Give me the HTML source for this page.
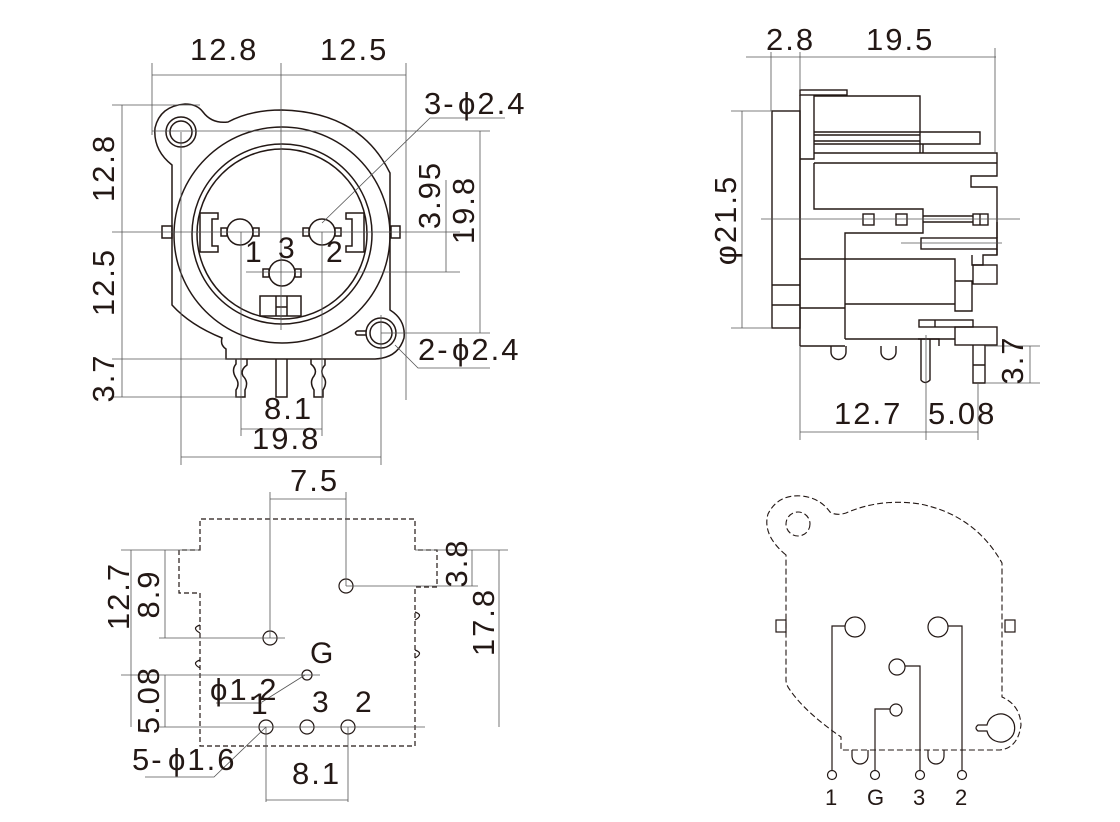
<!DOCTYPE html>
<html><head><meta charset="utf-8"><style>
html,body{margin:0;padding:0;background:#fff;}
svg{display:block;}
text{font-family:"Liberation Sans",Arial,sans-serif;fill:#231815;}
.d{font-size:31px;letter-spacing:2px;}
.s{font-size:30px;}
</style></head><body>
<svg width="1120" height="822" viewBox="0 0 1120 822" xmlns="http://www.w3.org/2000/svg">
<g fill="none" stroke="#231815" stroke-width="1.5">
<path d="M172,305 L172,165 Q153,150 155,128 Q160,106 185,104 Q197,104 203,112 Q212,124 228,122 Q250,110 282,110 Q360,112 390,173 L390,310 Q406,320 404,338 Q398,358 375,359 L226,359 L226,349 Q220,345 222,338 Q190,325 172,305 Z"/>
<circle cx="181" cy="132" r="15"/><circle cx="181" cy="132" r="11"/>
<circle cx="381" cy="333" r="15"/><circle cx="381" cy="333" r="11"/>
<path d="M366,331 L357,331 Q354,333 357,335 L366,335"/>
<circle cx="282" cy="235" r="108"/>
<circle cx="282" cy="234" r="90"/>
<circle cx="282" cy="234" r="85"/>
<rect x="162" y="226" width="10" height="12"/><rect x="391" y="226" width="9" height="12"/>
<path d="M218,213 L200,213 L200,252 L218,252 L218,246 L212,246 L212,219 L218,219 Z"/>
<path d="M346,213 L364,213 L364,252 L346,252 L346,246 L352,246 L352,219 L346,219 Z"/>
<circle cx="240" cy="232" r="13"/><rect x="221" y="228" width="6" height="8"/><rect x="253" y="228" width="6" height="8"/>
<circle cx="322" cy="232" r="13"/><rect x="303" y="228" width="6" height="8"/><rect x="335" y="228" width="6" height="8"/>
<circle cx="282" cy="273" r="13"/><rect x="263" y="269" width="6" height="8"/><rect x="295" y="269" width="6" height="8"/>
<rect x="260" y="296" width="41" height="20"/><path d="M276,296 V316 M287,296 V316 M276,307 H287"/>
<path d="M236,359 V364 Q231,370 236,378 Q240,384 236,390 V397 H245 V390 Q249,382 243,376 Q240,370 247,365 V359"/>
<path d="M276,359 V397 H287 V359"/>
<path d="M311,359 V364 Q318,370 314,376 Q309,382 314,390 V397 H323 V390 Q328,382 323,376 Q320,370 325,365 V359"/>
</g>
<g fill="none" stroke="#555" stroke-width="0.8">
<path d="M152,63 V135 M281,63 V330 M406,63 V400 M152,75 H406"/>
<path d="M112,105 H200 M122,105 V397 M112,232 H460 M112,359 H240 M112,397 H240"/>
<path d="M152,131 H490 M480,131 V333 M381,333 H490 M446,180 V272 M246,272 H460"/>
<path d="M181,132 V465 M381,315 V465 M181,457 H381 M241,232 V436 M322,232 V436 M241,429 H322"/>
<path d="M322,223 L430,118 L505,118"/>
<path d="M395,345 L418,368 L490,368"/>
</g>
<text class="d" x="190" y="60">12.8</text>
<text class="d" x="320" y="60">12.5</text>
<text class="d" x="424" y="114">3-</text><text class="d" x="458" y="114">ϕ2.4</text>
<text class="d" x="418" y="360">2-</text><text class="d" x="452" y="360">ϕ2.4</text>
<text class="d" x="264" y="419">8.1</text>
<text class="d" x="252" y="449">19.8</text>
<text class="s" x="245" y="262">1</text><text class="s" x="278" y="258">3</text><text class="s" x="326" y="262">2</text>
<text class="d" transform="translate(114,168) rotate(-90)" text-anchor="middle">12.8</text>
<text class="d" transform="translate(114,282) rotate(-90)" text-anchor="middle">12.5</text>
<text class="d" transform="translate(114,378) rotate(-90)" text-anchor="middle">3.7</text>
<text class="d" transform="translate(440,195) rotate(-90)" text-anchor="middle">3.95</text>
<text class="d" transform="translate(474,210) rotate(-90)" text-anchor="middle">19.8</text>

<g fill="none" stroke="#231815" stroke-width="1.4">
<rect x="772" y="111" width="28" height="217"/><path d="M772,285 H800 M772,305 H800"/>
<rect x="800" y="90" width="47" height="5"/>
<path d="M800,95 V346 M800,159 H814 V96 H920 V153"/>
<path d="M814,132 H920 M814,135 H920 M814,141 H920 M814,144 H923 V153 M920,132 H980 V144 H920"/>
<path d="M814,153 H997 V176 H971 V187 H997 V255"/>
<path d="M814,163 H997 M814,163 V209 H923 V233 H845 V339"/>
<rect x="863" y="214" width="11" height="11"/><rect x="896" y="214" width="11" height="11"/>
<path d="M923,216 H973 M923,222 H973"/><rect x="973" y="214" width="15" height="11"/><path d="M980,214 V225"/>
<rect x="921" y="238" width="76" height="11"/>
<path d="M997,222 V238 M997,249 V255 H983 V265 H972 V255"/>
<rect x="973" y="265" width="24" height="19"/>
<path d="M800,259 H955 V311 H972 V281 H955 M800,308 H845 M845,304 H955"/>
<rect x="919" y="320" width="54" height="7"/><path d="M935,320 V327"/>
<rect x="955" y="327" width="42" height="18"/>
<path d="M800,346 H845 M845,339 H955"/>
<path d="M831,346 V352 A7.5,7.5 0 0 0 846,352 V346 M881,346 V352 A7.5,7.5 0 0 0 896,352 V346"/>
<path d="M921,339 V380 Q925,385 930,380 V339 M918,339 H939 V346"/>
<path d="M973,345 V383 H985 V345 M973,365 H985"/>
</g>
<g fill="none" stroke="#555" stroke-width="0.8">
<path d="M746,57 H996 M771,52 V111 M800,52 V90 M995,48 V153"/>
<path d="M731,111 H772 M731,328 H772 M742,111 V328"/>
<path d="M761,219 H1020 M901,243 H1002"/>
<path d="M985,346 H1040 M985,383 H1040 M1030,346 V383"/>
<path d="M800,346 V440 M926,335 V440 M978,383 V440 M800,432 H978"/>
</g>
<text class="d" x="766" y="50">2.8</text>
<text class="d" x="866" y="50">19.5</text>
<text class="d" x="834" y="424">12.7</text>
<text class="d" x="928" y="424">5.08</text>
<text class="d" transform="translate(736,220) rotate(-90)" text-anchor="middle">φ21.5</text>
<text class="d" transform="translate(1023,360) rotate(-90)" text-anchor="middle">3.7</text>

<g fill="none" stroke="#231815" stroke-width="1.2" stroke-dasharray="5,3">
<path d="M200,550 V519 H415 V550 H437 V587 H415 V746 H200 V593 H179 V550 Z"/>
</g>
<g fill="none" stroke="#231815" stroke-width="1.2">
<path d="M415,612 Q424,615 415,620 M415,650 Q424,653 415,658 M200,625 Q191,628 200,633 M200,660 Q191,663 200,668"/>
<circle cx="266" cy="727" r="7"/><circle cx="307" cy="727" r="7"/><circle cx="348" cy="727" r="7"/>
<circle cx="307" cy="675" r="5"/><circle cx="270" cy="638" r="7"/><circle cx="346" cy="586" r="7"/>
</g>
<g fill="none" stroke="#555" stroke-width="0.8">
<path d="M270,492 V638 M346,492 V586 M270,499 H346"/>
<path d="M121,550 H200 M131,550 V727 M159,638 H285 M165,550 V638 M121,675 H320 M165,675 V727 M158,727 H425"/>
<path d="M415,550 H508 M346,586 H478 M472,550 V586 M499,550 V727"/>
<path d="M305,675 L262,702 M216,703 H262 M266,727 L214,777 L145,777"/>
<path d="M266,727 V802 M348,727 V802 M266,800 H348"/>
</g>
<text class="d" x="290" y="491">7.5</text>
<text class="d" x="292" y="784">8.1</text>
<text class="s" x="310" y="663">G</text>
<text class="d" x="210" y="700">ϕ1.2</text>
<text class="s" x="251" y="714">1</text><text class="s" x="312" y="712">3</text><text class="s" x="355" y="712">2</text>
<text class="d" x="132" y="770">5-</text><text class="d" x="168" y="770">ϕ1.6</text>
<text class="d" transform="translate(129,596) rotate(-90)" text-anchor="middle">12.7</text>
<text class="d" transform="translate(159,594) rotate(-90)" text-anchor="middle">8.9</text>
<text class="d" transform="translate(159,700) rotate(-90)" text-anchor="middle">5.08</text>
<text class="d" transform="translate(467,563) rotate(-90)" text-anchor="middle">3.8</text>
<text class="d" transform="translate(494,622) rotate(-90)" text-anchor="middle">17.8</text>

<g fill="none" stroke="#231815" stroke-width="1.1" stroke-dasharray="6,3">
<path d="M786,555 Q762,535 768,514 Q778,494 802,496 Q820,498 830,512 Q836,516 846,513 Q880,498 920,504 Q975,515 1002,563 L1002,697 Q1020,705 1021,725 Q1018,748 1000,750 L841,750 L841,737 Q805,712 790,690 Q786,685 786,680 Z"/>
<circle cx="798" cy="524" r="12"/>
</g>
<g fill="none" stroke="#231815" stroke-width="1.2">
<rect x="776" y="620" width="10" height="12"/><rect x="1005" y="620" width="10" height="12"/>
<path d="M852,750 V756 A8,8 0 0 0 868,756 V750 M928,750 V756 A8,8 0 0 0 944,756 V750"/>
<path d="M987,725 A14,14 0 1 1 987,731 L978,731 Q974,728 978,725 Z"/>
<circle cx="855" cy="627" r="10"/><circle cx="938" cy="627" r="10"/>
<circle cx="897" cy="667" r="8"/><circle cx="896" cy="710" r="6"/>
<path d="M845,626 H832 V771 M948,626 H962 V771 M905,666 H920 V771 M890,709 H875 V771"/>
<circle cx="832" cy="775" r="4.5"/><circle cx="875" cy="775" r="4.5"/><circle cx="920" cy="775" r="4.5"/><circle cx="962" cy="775" r="4.5"/>
</g>
<text x="825" y="805" style="font-size:22px">1</text>
<text x="867" y="805" style="font-size:22px">G</text>
<text x="913" y="805" style="font-size:22px">3</text>
<text x="955" y="805" style="font-size:22px">2</text>
</svg>
</body></html>
